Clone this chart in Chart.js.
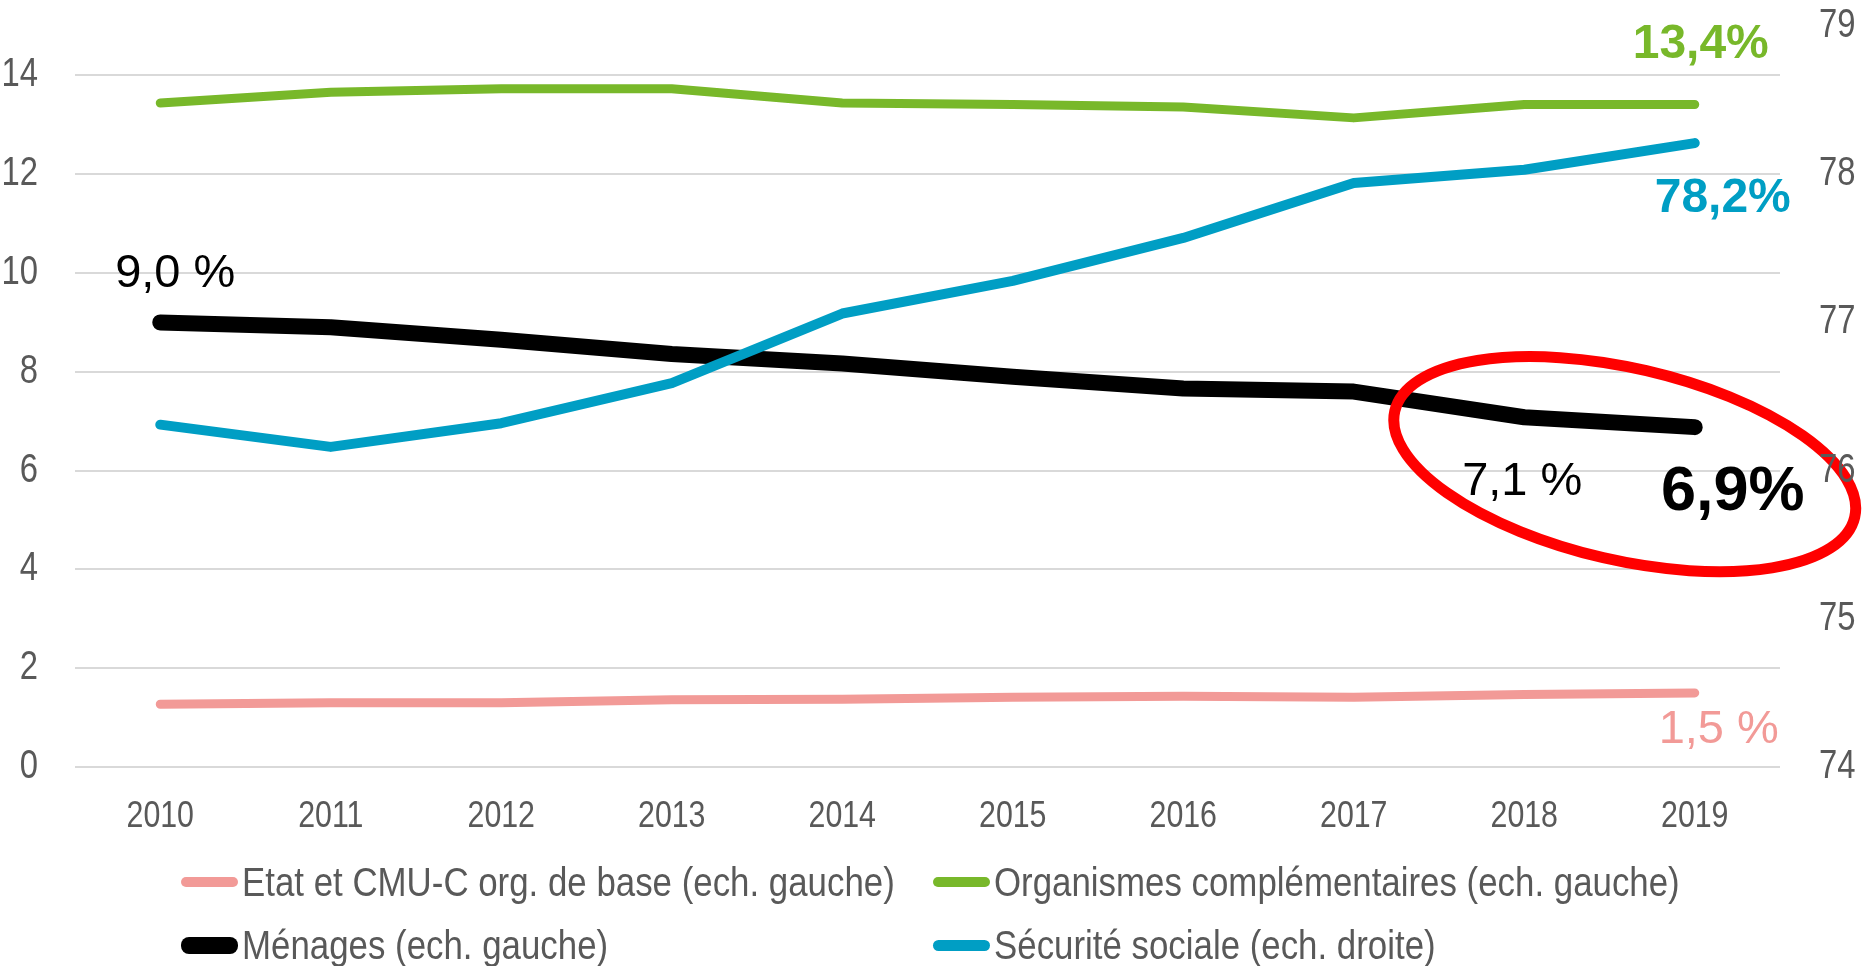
<!DOCTYPE html>
<html lang="fr">
<head>
<meta charset="utf-8">
<script src="https://cdn.jsdelivr.net/npm/chart.js@4.4.1/dist/chart.umd.min.js"></script>
<style>
  html, body { margin: 0; padding: 0; background: #fff; }
  #wrap { position: relative; width: 1864px; height: 966px; }
  #legend { position: absolute; left: 0; top: 0; width: 100%; height: 100%; pointer-events: none; }
  .item { position: absolute; display: flex; align-items: center; height: 50px; margin-top: -25px;
          font-family: 'Liberation Sans', Arial, sans-serif; font-size: 41px; color: #595959; white-space: nowrap; }
  .mark { width: 57px; border-radius: 8px; margin-right: 4px; flex: none; }
  .txt { display: inline-block; transform: scaleX(0.85); transform-origin: left center; }
</style>
</head>
<body>
<div id="wrap">
  <canvas id="chart"></canvas>
  <div id="legend"></div>
</div>
<script>
// Data
const years = ['2010', '2011', '2012', '2013', '2014', '2015', '2016', '2017', '2018', '2019'];
const etatValues = [1.27, 1.30, 1.30, 1.36, 1.37, 1.41, 1.43, 1.41, 1.47, 1.50];
const complementairesValues = [13.44, 13.66, 13.73, 13.73, 13.44, 13.41, 13.36, 13.14, 13.41, 13.41];
const menagesValues = [9.00, 8.90, 8.65, 8.36, 8.17, 7.90, 7.66, 7.60, 7.08, 6.88];
const securiteValues = [76.31, 76.16, 76.32, 76.59, 77.06, 77.28, 77.57, 77.94, 78.03, 78.21];
const seriesNames = [
    'Etat et CMU-C org. de base (ech. gauche)',
    'Organismes complémentaires (ech. gauche)',
    'Ménages (ech. gauche)',
    'Sécurité sociale (ech. droite)'
];
const leftAxisRange = [0, 15];
const rightAxisRange = [74, 79];
const valueLabels = ['9,0 %', '13,4%', '78,2%', '7,1 %', '6,9%', '1,5 %'];

const GREY = '#595959';
const arial = "'Liberation Sans', Arial, sans-serif";
const NARROW = 0.82; // no Arial Narrow here, so the axis text is squeezed

const PINK = '#F29A97', GREEN = '#78B82A', BLACK = '#000000', BLUE = '#009EC4';

// axis labels drawn from the scales' own ticks, squeezed horizontally
const narrowTicksPlugin = {
    id: 'narrowTicks',
    afterDraw(chart) {
        const ctx = chart.ctx;
        const put = (text, x, y, align, size) => {
            ctx.save();
            ctx.translate(x, y);
            ctx.scale(NARROW, 1);
            ctx.textAlign = align;
            ctx.textBaseline = 'middle';
            ctx.font = size + 'px ' + arial;
            ctx.fillStyle = GREY;
            ctx.fillText(text, 0, 0);
            ctx.restore();
        };
        const { x, y, y2 } = chart.scales;
        y.ticks.forEach((t, i) => put(t.label, y.right - 37, y.getPixelForTick(i), 'right', 40));
        y2.ticks.forEach((t, i) => put(t.label, y2.left + 39, y2.getPixelForTick(i), 'left', 40));
        x.ticks.forEach((t, i) => put(t.label, x.getPixelForTick(i), x.top + 50, 'center', 37));
    }
};

// value labels + red ellipse drawn on top of the chart
const annotationPlugin = {
    id: 'annotations',
    afterDatasetsDraw(chart) {
        const ctx = chart.ctx;
        const x = chart.scales.x, yl = chart.scales.y, yr = chart.scales.y2;
        const last = years.length - 1;
        const px = i => x.getPixelForValue(i);
        const notes = [
            { t: valueLabels[0], x: px(0) + 15, y: yl.getPixelForValue(menagesValues[0]) - 35, c: BLACK, f: '47px ' + arial },
            { t: valueLabels[1], x: px(last) + 6, y: yl.getPixelForValue(complementairesValues[last]) - 47, c: GREEN, f: 'bold 48px ' + arial },
            { t: valueLabels[2], x: px(last) + 28, y: yr.getPixelForValue(securiteValues[last]) + 69, c: BLUE, f: 'bold 48px ' + arial },
            { t: valueLabels[3], x: px(last - 1) - 2, y: yl.getPixelForValue(menagesValues[last - 1]) + 78, c: BLACK, f: '47px ' + arial },
            { t: valueLabels[4], x: px(last) + 38, y: yl.getPixelForValue(menagesValues[last]) + 83, c: BLACK, f: 'bold 63px ' + arial },
            { t: valueLabels[5], x: px(last) + 24, y: yl.getPixelForValue(etatValues[last]) + 50, c: PINK, f: '47px ' + arial }
        ];
        ctx.save();
        ctx.textAlign = 'center';
        ctx.textBaseline = 'alphabetic';
        notes.forEach(n => {
            ctx.font = n.f;
            ctx.fillStyle = n.c;
            ctx.fillText(n.t, n.x, n.y);
        });
        // red circle around the last household values
        ctx.beginPath();
        ctx.ellipse(px(last) - 70, yl.getPixelForValue(6.13), 236, 96, 13 * Math.PI / 180, 0, Math.PI * 2);
        ctx.strokeStyle = '#FF0000';
        ctx.lineWidth = 11;
        ctx.stroke();
        ctx.restore();
    }
};

const chart = new Chart(document.getElementById('chart').getContext('2d'), {
    type: 'line',
    data: {
        labels: years,
        datasets: [
            { label: seriesNames[0], data: etatValues, borderColor: PINK, borderWidth: 9, yAxisID: 'y', order: 3 },
            { label: seriesNames[1], data: complementairesValues, borderColor: GREEN, borderWidth: 9, yAxisID: 'y', order: 2 },
            { label: seriesNames[2], data: menagesValues, borderColor: BLACK, borderWidth: 16, yAxisID: 'y', order: 1 },
            { label: seriesNames[3], data: securiteValues, borderColor: BLUE, borderWidth: 10, yAxisID: 'y2', order: 0 }
        ]
    },
    options: {
        responsive: true,
        maintainAspectRatio: false,
        animation: false,
        layout: { padding: { top: 26, left: 0, right: 0, bottom: 0 } },
        elements: {
            point: { radius: 0, hoverRadius: 0 },
            line: { tension: 0, borderCapStyle: 'round', borderJoinStyle: 'round', fill: false }
        },
        plugins: {
            legend: { display: false },
            tooltip: { enabled: false }
        },
        scales: {
            x: {
                offset: true,
                grid: { display: false, drawTicks: false },
                border: { display: false },
                ticks: { display: false },
                afterFit: s => { s.height = 199; s.paddingLeft = 0; s.paddingRight = 0; }
            },
            y: {
                position: 'left',
                min: leftAxisRange[0],
                max: leftAxisRange[1],
                grid: { color: '#D9D9D9', lineWidth: 2, drawTicks: false },
                border: { display: false },
                ticks: { display: false, stepSize: 2, includeBounds: false },
                afterFit: s => { s.width = 75; s.paddingTop = 0; s.paddingBottom = 0; }
            },
            y2: {
                position: 'right',
                min: rightAxisRange[0],
                max: rightAxisRange[1],
                grid: { display: false, drawTicks: false },
                border: { display: false },
                ticks: { display: false, stepSize: 1 },
                afterFit: s => { s.width = 84; s.paddingTop = 0; s.paddingBottom = 0; }
            }
        }
    },
    plugins: [annotationPlugin, narrowTicksPlugin]
});

// legend in two columns, like the original
const legendSlots = [[181, 882], [933, 882], [181, 945], [933, 945]];
const legendBox = document.getElementById('legend');
chart.data.datasets.forEach((ds, i) => {
    const item = document.createElement('div');
    item.className = 'item';
    item.style.left = legendSlots[i][0] + 'px';
    item.style.top = legendSlots[i][1] + 'px';
    const mark = document.createElement('span');
    mark.className = 'mark';
    mark.style.background = ds.borderColor;
    mark.style.height = (ds.borderWidth + 1) + 'px';
    const txt = document.createElement('span');
    txt.className = 'txt';
    txt.textContent = ds.label;
    item.appendChild(mark);
    item.appendChild(txt);
    legendBox.appendChild(item);
});
</script>
</body>
</html>
